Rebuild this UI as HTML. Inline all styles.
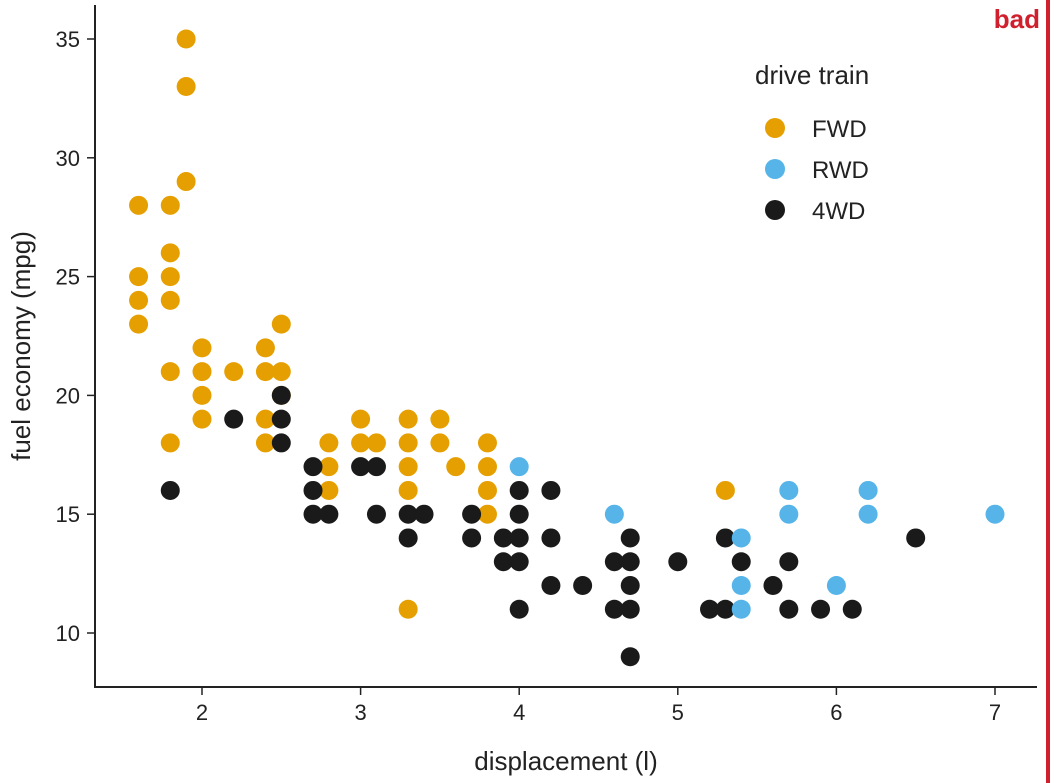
<!DOCTYPE html>
<html><head><meta charset="utf-8"><style>
body{margin:0;background:#fff;}
svg{display:block;font-family:"Liberation Sans",sans-serif;}
</style></head><body>
<svg width="1056" height="783" viewBox="0 0 1056 783" xmlns="http://www.w3.org/2000/svg">
<rect width="1056" height="783" fill="#fff"/>
<line x1="1048" y1="0" x2="1048" y2="783" stroke="#d0202e" stroke-width="4"/>
<text x="1040" y="28" text-anchor="end" font-size="26" font-weight="bold" fill="#d0202e">bad</text>
<g stroke="#222" stroke-width="2">
<line x1="95" y1="5" x2="95" y2="688"/>
<line x1="94" y1="687" x2="1037" y2="687"/>
</g>
<g id="ticks" stroke="#222" stroke-width="1.5"></g>
<g id="labels" font-size="22" fill="#222"></g>
<text x="566" y="770" text-anchor="middle" font-size="26" fill="#222">displacement (l)</text>
<text transform="translate(30,346) rotate(-90)" text-anchor="middle" font-size="26" fill="#222">fuel economy (mpg)</text>
<g id="pts"></g>
<text x="755" y="84" font-size="26" fill="#222">drive train</text>
<circle cx="775" cy="128" r="10" fill="#E69F00"/><text x="812" y="137" font-size="24" fill="#222">FWD</text>
<circle cx="775" cy="169" r="10" fill="#56B4E9"/><text x="812" y="178" font-size="24" fill="#222">RWD</text>
<circle cx="775" cy="210" r="10" fill="#1a1a1a"/><text x="812" y="219" font-size="24" fill="#222">4WD</text>
<script>
var X=v=>202+(v-2)*158.6, Y=v=>633-(v-10)*23.76, ns="http://www.w3.org/2000/svg";
var t=document.getElementById('ticks'),l=document.getElementById('labels'),p=document.getElementById('pts');
function el(g,n,a,txt){var e=document.createElementNS(ns,n);for(var k in a)e.setAttribute(k,a[k]);if(txt)e.textContent=txt;g.appendChild(e);}
for(var v=2;v<=7;v++){el(t,'line',{x1:X(v),x2:X(v),y1:687,y2:695});el(l,'text',{x:X(v),y:720,'text-anchor':'middle'},''+v);}
for(var v=10;v<=35;v+=5){el(t,'line',{x1:87,x2:95,y1:Y(v),y2:Y(v)});el(l,'text',{x:80,y:Y(v)+8,'text-anchor':'end'},''+v);}
var F=[[1.6,28],[1.6,25],[1.6,24],[1.6,23],[1.8,28],[1.8,26],[1.8,25],[1.8,24],[1.8,21],[1.8,18],[1.9,35],[1.9,33],[1.9,29],[2,22],[2,21],[2,20],[2,19],[2.2,21],[2.4,22],[2.4,21],[2.4,19],[2.4,18],[2.5,23],[2.5,21],[2.5,20],[2.8,18],[2.8,17],[2.8,16],[3,19],[3,18],[3.1,18],[3.3,19],[3.3,18],[3.3,17],[3.3,16],[3.3,11],[3.5,19],[3.5,18],[3.6,17],[3.8,18],[3.8,17],[3.8,16],[3.8,15],[5.3,16]];
var K=[[1.8,16],[2.2,19],[2.5,20],[2.5,19],[2.5,18],[2.7,17],[2.7,16],[2.7,15],[2.8,15],[3,17],[3.1,17],[3.1,15],[3.3,15],[3.3,14],[3.4,15],[3.7,15],[3.7,14],[3.9,14],[3.9,13],[4,16],[4,15],[4,14],[4,13],[4,11],[4.2,16],[4.2,14],[4.2,12],[4.4,12],[4.6,13],[4.6,11],[4.7,14],[4.7,13],[4.7,12],[4.7,11],[4.7,9],[5,13],[5.2,11],[5.3,14],[5.3,11],[5.4,13],[5.6,12],[5.7,13],[5.7,11],[5.9,11],[6.1,11],[6.5,14]];
var R=[[4,17],[4.6,15],[5.4,14],[5.4,12],[5.4,11],[5.7,16],[5.7,15],[6.2,16],[6.2,15],[6,12],[7,15]];
F.forEach(d=>el(p,'circle',{cx:X(d[0]),cy:Y(d[1]),r:9.5,fill:'#E69F00'}));
K.forEach(d=>el(p,'circle',{cx:X(d[0]),cy:Y(d[1]),r:9.5,fill:'#1a1a1a'}));
R.forEach(d=>el(p,'circle',{cx:X(d[0]),cy:Y(d[1]),r:9.5,fill:'#56B4E9'}));
</script>
</svg>
</body></html>
